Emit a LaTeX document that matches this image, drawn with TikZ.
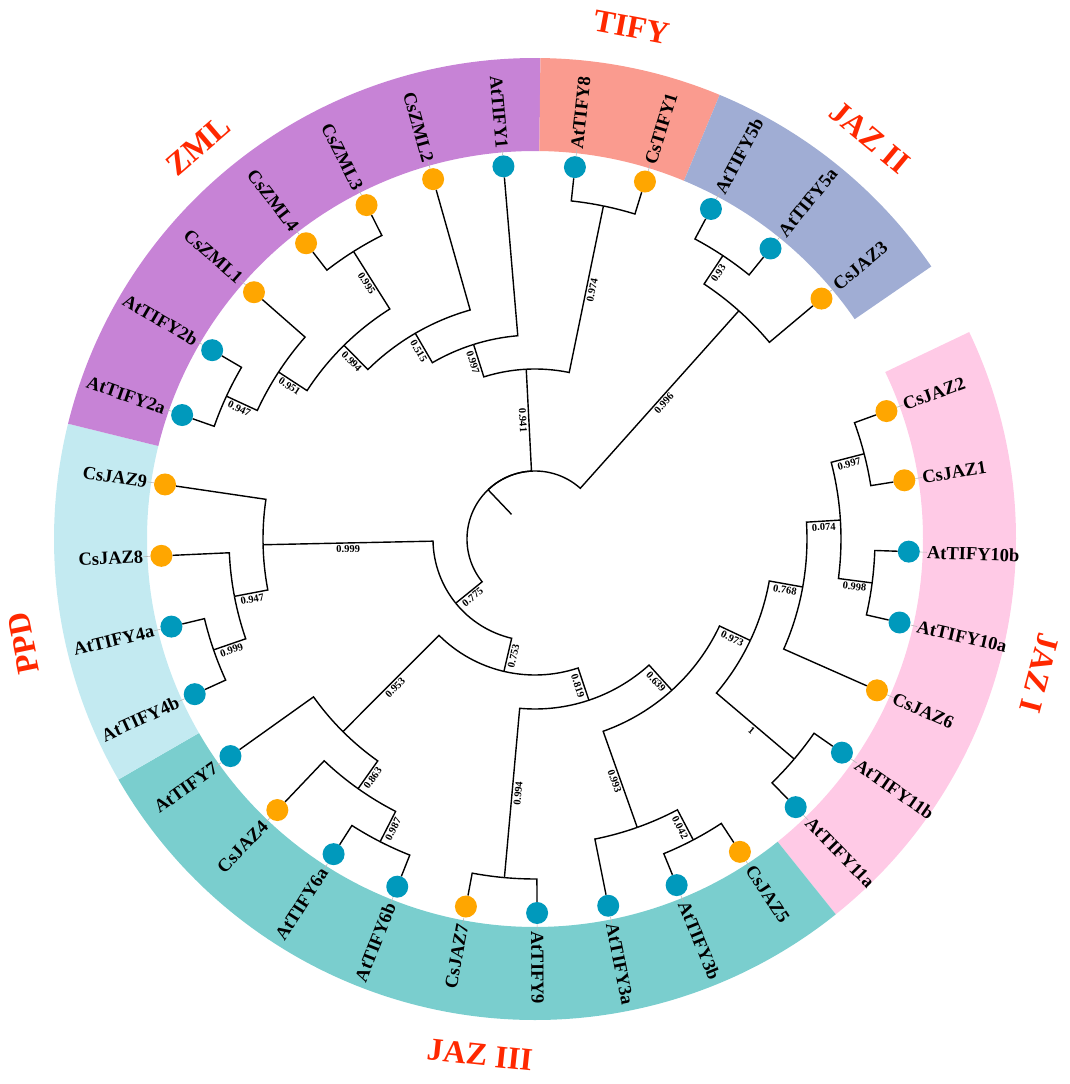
\documentclass[tikz,border=0pt]{standalone}
\usepackage{fontspec}
\setmainfont{Liberation Serif}
\definecolor{zmlc}{RGB}{199,131,214}
\definecolor{tifyc}{RGB}{250,155,143}
\definecolor{jazTwoc}{RGB}{160,173,212}
\definecolor{jazOnec}{RGB}{255,202,230}
\definecolor{jazThreec}{RGB}{122,206,206}
\definecolor{ppdc}{RGB}{195,234,241}
\definecolor{dotblue}{RGB}{0,153,188}
\definecolor{dotorange}{RGB}{255,166,0}
\definecolor{grpred}{RGB}{255,40,0}
\tikzset{
  branch/.style={line width=1.4pt, black},
  atdot/.style={circle, fill=dotblue, minimum size=22pt, inner sep=0pt},
  csdot/.style={circle, fill=dotorange, minimum size=22pt, inner sep=0pt},
  lbl/.style={font=\fontsize{18.5}{20}\selectfont\bfseries, inner sep=0pt},
  bsl/.style={font=\fontsize{10.5}{11}\selectfont\bfseries, inner sep=2.2pt, anchor=north},
  grp/.style={font=\fontsize{32}{34}\selectfont\bfseries, text=grpred, inner sep=0pt},
  tickline/.style={gray!55, line width=0.6pt},
}
% leaf on right half: name, angle, text, dot style
\newcommand\leafR[4]{%
  \node[#4] (#1) at (#2:374pt) {};
  \node[lbl, anchor=west, rotate=#2] (#1-t) at (#2:392pt) {#3};
  \draw[tickline] (#1) -- (#1-t);}
\newcommand\leafL[4]{%
  \node[#4] (#1) at (#2:374pt) {};
  \node[lbl, anchor=east, rotate=#2+180] (#1-t) at (#2:392pt) {#3};
  \draw[tickline] (#1) -- (#1-t);}
% parent, parent angle, parent radius, child angle, child
\newcommand\treeedge[5]{\draw[branch] (#1) arc[start angle=#2, end angle=#4, radius=#3] -- (#5);}
% bootstrap: name, angle, mid radius, text
\newcommand\bsR[4]{\node[bsl, rotate=#2] (#1) at (#2:#3pt) {#4};}
\newcommand\bsL[4]{\node[bsl, rotate=#2+180] (#1) at (#2:#3pt) {#4};}
\newcommand\ringsector[3]{\fill[#1] (#2:388pt) arc[start angle=#2, end angle=#3, radius=388pt] -- (#3:481pt) arc[start angle=#3, end angle=#2, radius=481pt] -- cycle;}
\begin{document}
\begin{tikzpicture}
\useasboundingbox (-535pt,-545pt) rectangle (534pt,539pt);
% coloured ring
\ringsector{jazOnec}{25.4839}{-51.2903}
\ringsector{jazThreec}{-51.2903}{-150.0}
\ringsector{ppdc}{-150.0}{-193.8710}
\ringsector{zmlc}{-193.8710}{-270.6452}
\ringsector{tifyc}{-270.6452}{-292.5806}
\ringsector{jazTwoc}{-292.5806}{-325.4839}
% leaves
\leafR{l0}{20.0000}{CsJAZ2}{csdot}
\leafR{l1}{9.0323}{CsJAZ1}{csdot}
\leafR{l2}{-1.9355}{AtTIFY10b}{atdot}
\leafR{l3}{-12.9032}{AtTIFY10a}{atdot}
\leafR{l4}{-23.8710}{CsJAZ6}{csdot}
\leafR{l5}{-34.8387}{AtTIFY11b}{atdot}
\leafR{l6}{-45.8065}{AtTIFY11a}{atdot}
\leafR{l7}{-56.7742}{CsJAZ5}{csdot}
\leafR{l8}{-67.7419}{AtTIFY3b}{atdot}
\leafR{l9}{-78.7097}{AtTIFY3a}{atdot}
\leafR{l10}{-89.6774}{AtTIFY9}{atdot}
\leafL{l11}{-100.6452}{CsJAZ7}{csdot}
\leafL{l12}{-111.6129}{AtTIFY6b}{atdot}
\leafL{l13}{-122.5806}{AtTIFY6a}{atdot}
\leafL{l14}{-133.5484}{CsJAZ4}{csdot}
\leafL{l15}{-144.5161}{AtTIFY7}{atdot}
\leafL{l16}{-155.4839}{AtTIFY4b}{atdot}
\leafL{l17}{-166.4516}{AtTIFY4a}{atdot}
\leafL{l18}{-177.4194}{CsJAZ8}{csdot}
\leafL{l19}{-188.3871}{CsJAZ9}{csdot}
\leafL{l20}{-199.3548}{AtTIFY2a}{atdot}
\leafL{l21}{-210.3226}{AtTIFY2b}{atdot}
\leafL{l22}{-221.2903}{CsZML1}{csdot}
\leafL{l23}{-232.2581}{CsZML4}{csdot}
\leafL{l24}{-243.2258}{CsZML3}{csdot}
\leafL{l25}{-254.1935}{CsZML2}{csdot}
\leafL{l26}{-265.1613}{AtTIFY1}{atdot}
\leafR{l27}{-276.1290}{AtTIFY8}{atdot}
\leafR{l28}{-287.0968}{CsTIFY1}{csdot}
\leafR{l29}{-298.0645}{AtTIFY5b}{atdot}
\leafR{l30}{-309.0323}{AtTIFY5a}{atdot}
\leafR{l31}{-320.0000}{CsJAZ3}{csdot}
% internal nodes
\coordinate (nV) at (14.5161:340pt);
\coordinate (nW) at (-7.4194:340pt);
\coordinate (nU) at (3.5484:306pt);
\coordinate (nT) at (-10.1613:272pt);
\coordinate (nS) at (-40.3226:340pt);
\coordinate (nR) at (-25.2419:238pt);
\coordinate (nX) at (-62.2581:340pt);
\coordinate (nQ) at (-70.4839:306pt);
\coordinate (nP) at (-47.8629:204pt);
\coordinate (nN) at (-95.1613:340pt);
\coordinate (nL) at (-71.5121:170pt);
\coordinate (nY) at (-117.0968:340pt);
\coordinate (nM) at (-125.3226:306pt);
\coordinate (nK) at (-134.9194:272pt);
\coordinate (nJ) at (-103.2157:136pt);
\coordinate (nZ) at (-160.9677:340pt);
\coordinate (nH) at (-169.1935:306pt);
\coordinate (nI) at (-178.7903:272pt);
\coordinate (nG) at (-141.0030:102pt);
\coordinate (nAA) at (-204.8387:340pt);
\coordinate (nC) at (-213.0645:306pt);
\coordinate (nBB) at (-237.7419:340pt);
\coordinate (nD) at (-225.4032:272pt);
\coordinate (nE) at (-239.7984:238pt);
\coordinate (nF) at (-252.4798:204pt);
\coordinate (nTF) at (-281.6129:340pt);
\coordinate (nB) at (-267.0464:170pt);
\coordinate (nCC) at (-303.5484:340pt);
\coordinate (nJII) at (-311.7742:306pt);
\coordinate (nA) at (-226.3886:68pt);
\coordinate (root) at (-226.3886:34pt);
% branches
\treeedge{nV}{14.5161}{340pt}{20.0000}{l0}
\treeedge{nV}{14.5161}{340pt}{9.0323}{l1}
\treeedge{nW}{-7.4194}{340pt}{-1.9355}{l2}
\treeedge{nW}{-7.4194}{340pt}{-12.9032}{l3}
\treeedge{nU}{3.5484}{306pt}{14.5161}{nV}
\treeedge{nU}{3.5484}{306pt}{-7.4194}{nW}
\treeedge{nT}{-10.1613}{272pt}{-23.8710}{l4}
\treeedge{nT}{-10.1613}{272pt}{3.5484}{nU}
\treeedge{nS}{-40.3226}{340pt}{-34.8387}{l5}
\treeedge{nS}{-40.3226}{340pt}{-45.8065}{l6}
\treeedge{nR}{-25.2419}{238pt}{-40.3226}{nS}
\treeedge{nR}{-25.2419}{238pt}{-10.1613}{nT}
\treeedge{nX}{-62.2581}{340pt}{-67.7419}{l8}
\treeedge{nX}{-62.2581}{340pt}{-56.7742}{l7}
\treeedge{nQ}{-70.4839}{306pt}{-78.7097}{l9}
\treeedge{nQ}{-70.4839}{306pt}{-62.2581}{nX}
\treeedge{nP}{-47.8629}{204pt}{-70.4839}{nQ}
\treeedge{nP}{-47.8629}{204pt}{-25.2419}{nR}
\treeedge{nN}{-95.1613}{340pt}{-100.6452}{l11}
\treeedge{nN}{-95.1613}{340pt}{-89.6774}{l10}
\treeedge{nL}{-71.5121}{170pt}{-95.1613}{nN}
\treeedge{nL}{-71.5121}{170pt}{-47.8629}{nP}
\treeedge{nY}{-117.0968}{340pt}{-111.6129}{l12}
\treeedge{nY}{-117.0968}{340pt}{-122.5806}{l13}
\treeedge{nM}{-125.3226}{306pt}{-133.5484}{l14}
\treeedge{nM}{-125.3226}{306pt}{-117.0968}{nY}
\treeedge{nK}{-134.9194}{272pt}{-144.5161}{l15}
\treeedge{nK}{-134.9194}{272pt}{-125.3226}{nM}
\treeedge{nJ}{-103.2157}{136pt}{-134.9194}{nK}
\treeedge{nJ}{-103.2157}{136pt}{-71.5121}{nL}
\treeedge{nZ}{-160.9677}{340pt}{-155.4839}{l16}
\treeedge{nZ}{-160.9677}{340pt}{-166.4516}{l17}
\treeedge{nH}{-169.1935}{306pt}{-177.4194}{l18}
\treeedge{nH}{-169.1935}{306pt}{-160.9677}{nZ}
\treeedge{nI}{-178.7903}{272pt}{-188.3871}{l19}
\treeedge{nI}{-178.7903}{272pt}{-169.1935}{nH}
\treeedge{nG}{-141.0030}{102pt}{-178.7903}{nI}
\treeedge{nG}{-141.0030}{102pt}{-103.2157}{nJ}
\treeedge{nAA}{-204.8387}{340pt}{-199.3548}{l20}
\treeedge{nAA}{-204.8387}{340pt}{-210.3226}{l21}
\treeedge{nC}{-213.0645}{306pt}{-221.2903}{l22}
\treeedge{nC}{-213.0645}{306pt}{-204.8387}{nAA}
\treeedge{nBB}{-237.7419}{340pt}{-232.2581}{l23}
\treeedge{nBB}{-237.7419}{340pt}{-243.2258}{l24}
\treeedge{nD}{-225.4032}{272pt}{-213.0645}{nC}
\treeedge{nD}{-225.4032}{272pt}{-237.7419}{nBB}
\treeedge{nE}{-239.7984}{238pt}{-225.4032}{nD}
\treeedge{nE}{-239.7984}{238pt}{-254.1935}{l25}
\treeedge{nF}{-252.4798}{204pt}{-239.7984}{nE}
\treeedge{nF}{-252.4798}{204pt}{-265.1613}{l26}
\treeedge{nTF}{-281.6129}{340pt}{-276.1290}{l27}
\treeedge{nTF}{-281.6129}{340pt}{-287.0968}{l28}
\treeedge{nB}{-267.0464}{170pt}{-252.4798}{nF}
\treeedge{nB}{-267.0464}{170pt}{-281.6129}{nTF}
\treeedge{nCC}{-303.5484}{340pt}{-298.0645}{l29}
\treeedge{nCC}{-303.5484}{340pt}{-309.0323}{l30}
\treeedge{nJII}{-311.7742}{306pt}{-303.5484}{nCC}
\treeedge{nJII}{-311.7742}{306pt}{-320.0000}{l31}
\treeedge{nA}{-226.3886}{68pt}{-311.7742}{nJII}
\treeedge{nA}{-226.3886}{68pt}{-267.0464}{nB}
\treeedge{nA}{-226.3886}{68pt}{-141.0030}{nG}
\draw[branch] (nA) -- (root);
% bootstrap values
\bsR{bV}{14.5161}{323}{0.997}
\bsR{bW}{-7.4194}{323}{0.998}
\bsR{bU}{3.5484}{289}{0.074}
\bsR{bT}{-10.1613}{255}{0.768}
\bsR{bS}{-40.3226}{289}{1}
\bsR{bR}{-25.2419}{221}{0.973}
\bsR{bX}{-62.2581}{323}{0.042}
\bsR{bQ}{-70.4839}{255}{0.993}
\bsR{bP}{-47.8629}{187}{0.639}
\bsL{bN}{-95.1613}{255}{0.994}
\bsR{bL}{-71.5121}{153}{0.819}
\bsL{bY}{-117.0968}{323}{0.987}
\bsL{bM}{-125.3226}{289}{0.863}
\bsL{bK}{-134.9194}{204}{0.953}
\bsL{bJ}{-103.2157}{119}{0.753}
\bsL{bZ}{-160.9677}{323}{0.999}
\bsL{bH}{-169.1935}{289}{0.947}
\bsL{bI}{-178.7903}{187}{0.999}
\bsL{bG}{-141.0030}{85}{0.775}
\bsL{bAA}{-204.8387}{323}{0.947}
\bsL{bC}{-213.0645}{289}{0.951}
\bsL{bBB}{-237.7419}{306}{0.995}
\bsL{bD}{-225.4032}{255}{0.994}
\bsL{bE}{-239.7984}{221}{0.515}
\bsL{bF}{-252.4798}{187}{0.997}
\bsR{bTF}{-281.6129}{255}{0.974}
\bsL{bB}{-267.0464}{119}{0.941}
\bsR{bCC}{-303.5484}{323}{0.93}
\bsR{bJII}{-311.7742}{187}{0.996}
% group labels
\node[grp, rotate=-10.7] (gTIFY) at (79.3:521pt) {TIFY};
\node[grp, rotate=-39.8] (gJAZII) at (50.2:523pt) {JAZ II};
\node[grp, rotate=-104.9] (gJAZI) at (-14.9:522pt) {JAZ I};
\node[grp, rotate=-6.1] (gJAZIII) at (-96.1:519pt) {JAZ III};
\node[grp, rotate=101.5] (gPPD) at (-168.5:522pt) {PPD};
\node[grp, rotate=40.6] (gZML) at (130.6:518pt) {ZML};
\end{tikzpicture}
\end{document}
